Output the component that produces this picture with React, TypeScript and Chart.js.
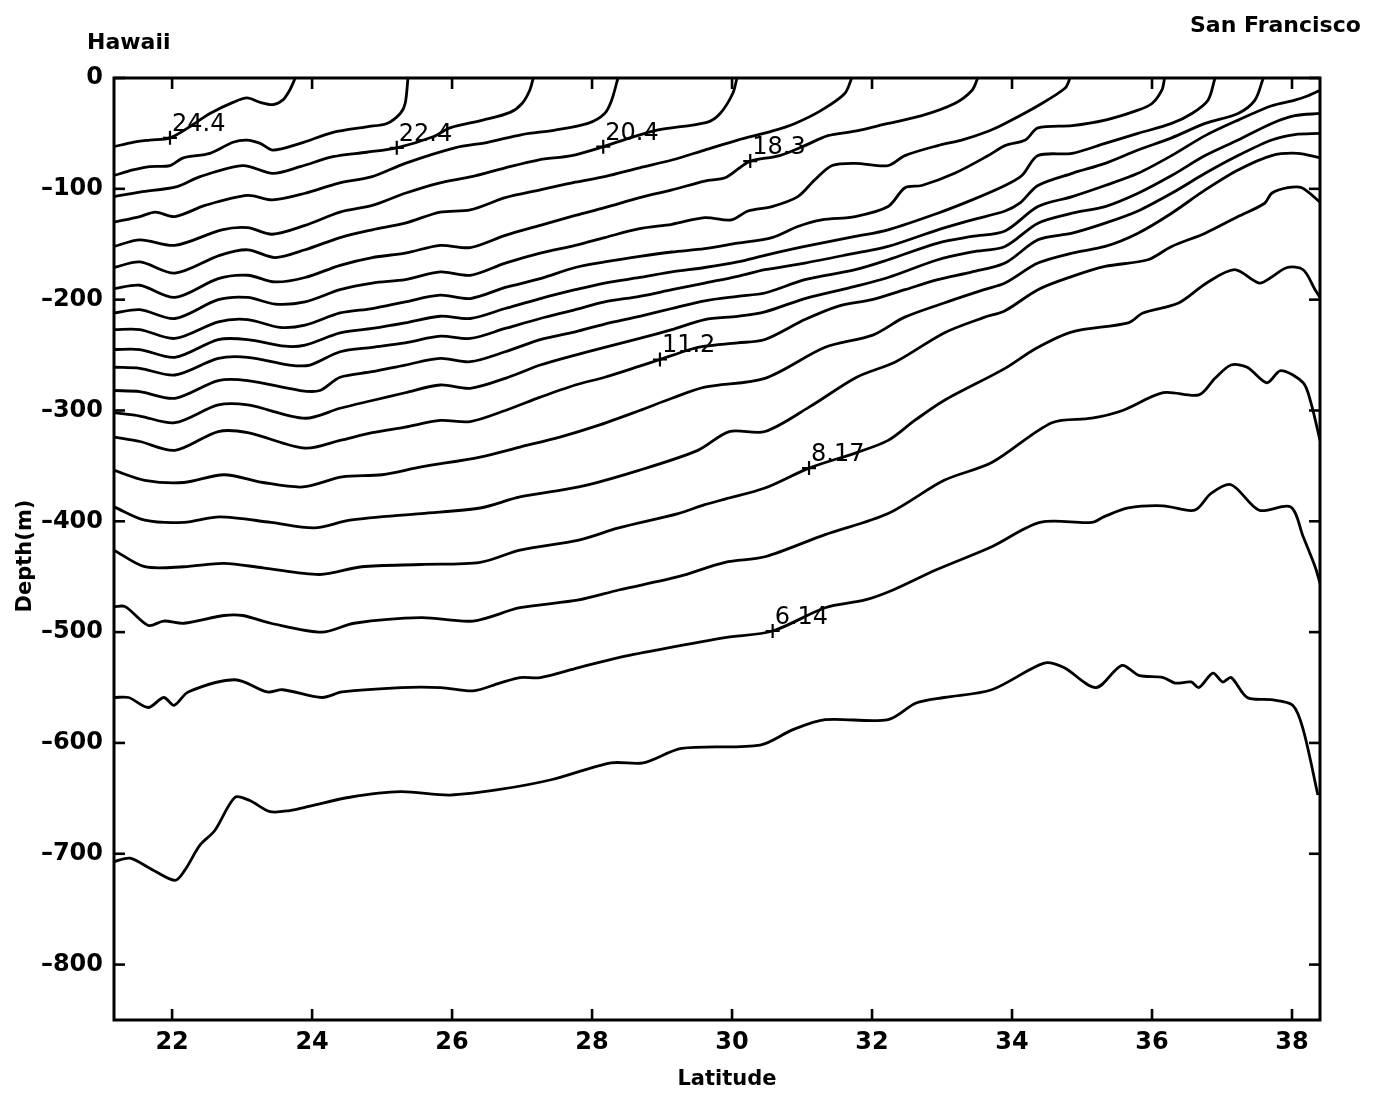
import React, { useEffect, useRef } from 'react';
import { Chart, registerables } from 'chart.js';

Chart.register(...registerables);

// ---- axis ticks ----
const xTicks = [22, 24, 26, 28, 30, 32, 34, 36, 38];
const yTicks = [0, -100, -200, -300, -400, -500, -600, -700, -800];
const latMin = 21.17;
const latMax = 38.4;
const depthMin = -850;
const depthMax = 0;

// ---- contour levels (deg C), top to bottom ----
const levels = ['24.4', '23.4', '22.4', '21.4', '20.4', '19.3', '18.3', '17.3', '16.3', '15.3', '14.2', '13.2', '12.2', '11.2', '10.2', '9.2', '8.17', '7.15', '6.14', '5.12'];

const c01Lat = [21.17, 21.44, 21.68, 21.97, 22.30, 22.54, 22.87, 23.07, 23.26, 23.44, 23.58, 23.68, 23.76];
const c01Dep = [-62, -58, -56, -54, -42, -32, -22, -18, -22, -24, -20, -11, 0];

const c02Lat = [21.17, 21.44, 21.68, 21.97, 22.16, 22.54, 22.87, 23.07, 23.26, 23.44, 23.83, 24.30, 24.78, 25.07, 25.26, 25.33, 25.37];
const c02Dep = [-88, -83, -80, -79, -72, -68, -58, -56, -59, -65, -59, -49, -44, -41, -32, -23, 0];

const c03Lat = [21.17, 21.54, 22.07, 22.40, 23.01, 23.44, 23.83, 24.30, 24.78, 25.21, 25.73, 25.97, 26.44, 26.83, 27.00, 27.11, 27.16];
const c03Dep = [-107, -103, -98, -89, -79, -86, -80, -71, -67, -63, -53, -45, -38, -31, -23, -11, 0];

const c04Lat = [21.17, 21.54, 21.76, 22.04, 22.47, 23.08, 23.43, 23.90, 24.37, 24.86, 25.33, 26.04, 26.51, 27.00, 27.47, 27.94, 28.18, 28.28, 28.37];
const c04Dep = [-130, -125, -121, -125, -115, -106, -110, -104, -95, -89, -77, -63, -58, -51, -47, -41, -32, -20, 0];

const c05Lat = [21.17, 21.54, 22.04, 22.71, 23.08, 23.43, 23.90, 24.40, 24.86, 25.33, 25.80, 26.28, 26.76, 27.23, 27.71, 28.16, 28.54, 28.93, 29.64, 29.83, 30.01, 30.07];
const c05Dep = [-152, -146, -151, -137, -135, -141, -133, -121, -115, -104, -95, -89, -81, -74, -70, -62, -54, -47, -40, -32, -14, 0];

const c06Lat = [21.17, 21.54, 22.04, 22.68, 23.08, 23.47, 23.90, 24.40, 24.86, 25.33, 25.83, 26.26, 26.76, 27.26, 27.76, 28.18, 28.68, 29.14, 29.61, 30.08, 30.57, 30.90, 31.28, 31.61, 31.71];
const c06Dep = [-171, -166, -176, -160, -155, -162, -155, -144, -137, -131, -121, -119, -108, -101, -94, -89, -81, -74, -65, -56, -48, -41, -29, -14, 0];

const c07Lat = [21.17, 21.54, 22.04, 22.66, 23.08, 23.47, 23.90, 24.40, 24.86, 25.33, 25.83, 26.26, 26.76, 27.26, 27.76, 28.18, 28.68, 29.14, 29.61, 29.90, 30.11, 30.26, 30.68, 31.04, 31.37, 31.76, 32.23, 32.71, 33.18, 33.43, 33.51];
const c07Dep = [-190, -187, -198, -181, -178, -184, -180, -169, -162, -158, -151, -153, -142, -133, -124, -117, -108, -101, -93, -90, -81, -75, -70, -61, -52, -48, -41, -34, -23, -11, 0];

const c08Lat = [21.17, 21.54, 22.04, 22.66, 23.08, 23.47, 23.90, 24.40, 24.86, 25.33, 25.83, 26.26, 26.76, 27.26, 27.76, 28.18, 28.68, 29.14, 29.61, 29.99, 30.23, 30.57, 30.94, 31.18, 31.43, 31.76, 32.23, 32.47, 32.94, 33.28, 33.66, 33.90, 34.37, 34.76, 34.83];
const c08Dep = [-212, -209, -217, -200, -198, -204, -202, -191, -185, -182, -175, -178, -167, -158, -151, -144, -136, -132, -126, -128, -120, -116, -107, -92, -79, -77, -79, -70, -61, -56, -48, -41, -25, -9, 0];

const c09Lat = [21.17, 21.54, 22.04, 22.66, 23.08, 23.54, 23.90, 24.40, 24.86, 25.33, 25.83, 26.26, 26.76, 27.26, 27.76, 28.18, 28.68, 29.14, 29.61, 30.08, 30.57, 30.94, 31.28, 31.76, 32.23, 32.47, 32.71, 33.18, 33.66, 33.90, 34.19, 34.37, 34.86, 35.33, 35.80, 36.00, 36.14, 36.18];
const c09Dep = [-227, -227, -235, -220, -218, -225, -223, -212, -208, -202, -196, -199, -189, -181, -171, -166, -161, -157, -154, -149, -144, -134, -128, -125, -116, -99, -97, -86, -70, -61, -56, -45, -43, -38, -29, -23, -11, 0];

const c10Lat = [21.17, 21.54, 22.04, 22.66, 23.08, 23.61, 23.90, 24.40, 24.86, 25.33, 25.83, 26.26, 26.76, 27.26, 27.76, 28.18, 28.68, 29.14, 29.61, 30.08, 30.47, 31.04, 31.76, 32.23, 32.94, 33.43, 33.90, 34.14, 34.37, 34.86, 35.33, 35.80, 36.28, 36.57, 36.80, 36.90];
const c10Dep = [-245, -245, -252, -236, -236, -242, -241, -230, -226, -221, -215, -217, -208, -199, -191, -185, -180, -175, -171, -166, -160, -152, -143, -137, -122, -110, -97, -88, -70, -68, -59, -50, -41, -32, -20, 0];

const c11Lat = [21.17, 21.54, 22.04, 22.66, 23.08, 23.68, 23.97, 24.40, 24.86, 25.33, 25.83, 26.26, 26.76, 27.26, 27.76, 28.18, 28.68, 29.14, 29.61, 30.08, 30.47, 31.04, 31.76, 32.23, 32.94, 33.43, 33.90, 34.11, 34.37, 34.86, 35.33, 35.80, 36.28, 36.76, 37.23, 37.47, 37.59];
const c11Dep = [-261, -262, -268, -253, -252, -259, -259, -247, -243, -239, -233, -235, -226, -217, -209, -202, -197, -191, -185, -179, -173, -167, -158, -152, -137, -128, -120, -113, -97, -86, -77, -65, -54, -41, -32, -20, 0];

const c12Lat = [21.17, 21.54, 22.04, 22.66, 23.08, 23.83, 24.11, 24.40, 24.86, 25.33, 25.83, 26.26, 26.76, 27.26, 27.76, 28.18, 28.68, 29.14, 29.61, 30.08, 30.47, 31.04, 31.76, 32.23, 32.94, 33.43, 33.90, 34.37, 34.86, 35.33, 35.80, 36.28, 36.76, 37.23, 37.71, 38.04, 38.23, 38.40];
const c12Dep = [-282, -283, -289, -273, -273, -282, -282, -270, -265, -259, -253, -256, -247, -236, -229, -222, -215, -208, -201, -197, -194, -182, -173, -164, -149, -143, -138, -116, -107, -97, -86, -70, -52, -38, -25, -20, -16, -11];

const c13Lat = [21.17, 21.54, 22.04, 22.66, 23.08, 23.90, 24.40, 24.86, 25.33, 25.83, 26.26, 26.76, 27.26, 27.76, 28.18, 28.68, 29.14, 29.61, 30.08, 30.47, 31.04, 31.76, 32.23, 32.94, 33.43, 33.90, 34.37, 34.86, 35.33, 35.80, 36.28, 36.76, 37.23, 37.71, 38.04, 38.40];
const c13Dep = [-302, -305, -311, -295, -295, -307, -298, -291, -284, -277, -280, -271, -259, -250, -243, -235, -227, -218, -215, -211, -199, -188, -180, -164, -157, -152, -131, -122, -116, -104, -88, -70, -56, -41, -34, -32];

const c14Lat = [21.17, 21.54, 22.04, 22.66, 23.08, 23.90, 24.40, 24.86, 25.33, 25.83, 26.26, 26.76, 27.26, 27.76, 28.18, 28.68, 28.97, 29.40, 29.61, 30.08, 30.47, 31.04, 31.51, 32.00, 32.47, 32.94, 33.43, 33.90, 34.37, 34.86, 35.33, 35.80, 36.28, 36.76, 37.23, 37.71, 38.04, 38.40];
const c14Dep = [-324, -328, -336, -319, -320, -334, -327, -320, -315, -309, -310, -300, -288, -277, -270, -260, -254, -245, -242, -239, -236, -218, -206, -200, -191, -182, -175, -167, -146, -140, -131, -120, -104, -86, -70, -56, -51, -50];

const c15Lat = [21.17, 21.61, 22.17, 22.74, 23.30, 23.87, 24.43, 25.00, 25.56, 26.40, 26.97, 27.54, 28.11, 28.68, 29.14, 29.61, 30.47, 31.33, 32.01, 32.46, 33.03, 33.60, 33.90, 34.37, 34.86, 35.33, 35.80, 36.28, 36.76, 37.23, 37.71, 38.08, 38.40];
const c15Dep = [-354, -363, -365, -358, -365, -369, -360, -358, -351, -342, -333, -324, -313, -300, -289, -279, -271, -243, -232, -216, -203, -191, -185, -167, -158, -152, -140, -122, -101, -83, -70, -68, -72];

const c16Lat = [21.17, 21.61, 22.17, 22.68, 23.41, 24.03, 24.54, 25.56, 26.40, 26.97, 27.81, 28.67, 29.51, 29.96, 30.47, 31.10, 31.78, 32.34, 33.03, 33.60, 33.90, 34.37, 34.86, 35.33, 35.94, 36.28, 36.76, 37.23, 37.61, 37.71, 37.94, 38.14, 38.40];
const c16Dep = [-387, -399, -401, -396, -401, -406, -399, -393, -388, -378, -369, -354, -336, -319, -319, -297, -270, -256, -230, -216, -210, -191, -179, -170, -164, -152, -140, -125, -113, -104, -99, -99, -112];

const c17Lat = [21.17, 21.61, 22.17, 22.74, 23.30, 24.11, 24.71, 25.56, 26.40, 26.97, 27.81, 28.38, 29.23, 29.61, 29.90, 30.47, 31.10, 31.78, 32.23, 32.61, 33.03, 33.90, 34.34, 34.86, 35.66, 35.87, 36.38, 36.78, 37.18, 37.53, 37.70, 37.93, 38.16, 38.33, 38.40];
const c17Dep = [-426, -441, -441, -438, -442, -448, -441, -439, -437, -426, -417, -406, -393, -385, -380, -370, -352, -338, -327, -309, -291, -262, -244, -229, -221, -212, -203, -185, -173, -185, -180, -171, -173, -191, -198];

const c18Lat = [21.17, 21.33, 21.66, 21.88, 22.17, 22.74, 23.01, 23.41, 24.14, 24.60, 25.56, 26.30, 26.97, 27.81, 28.38, 29.23, 29.90, 30.47, 31.33, 32.23, 33.03, 33.71, 34.57, 35.14, 35.58, 36.16, 36.67, 36.90, 37.13, 37.36, 37.64, 37.84, 38.16, 38.27, 38.40];
const c18Dep = [-477, -477, -494, -490, -492, -485, -485, -492, -500, -492, -487, -490, -478, -471, -462, -450, -437, -432, -412, -393, -363, -347, -311, -307, -300, -284, -286, -271, -259, -261, -275, -264, -275, -293, -327];

const c19Lat = [21.17, 21.38, 21.66, 21.88, 22.03, 22.23, 22.90, 23.36, 23.58, 24.14, 24.43, 25.27, 25.84, 26.30, 26.68, 26.97, 27.26, 27.81, 28.38, 28.94, 29.90, 30.58, 31.33, 31.90, 32.30, 32.91, 33.71, 34.40, 35.14, 35.31, 35.66, 36.16, 36.61, 36.84, 37.13, 37.53, 37.98, 38.16, 38.33, 38.40];
const c19Dep = [-559, -559, -568, -559, -566, -554, -543, -554, -552, -559, -554, -550, -550, -553, -546, -541, -541, -532, -523, -516, -505, -499, -478, -471, -462, -444, -423, -401, -401, -396, -388, -386, -390, -375, -367, -390, -387, -414, -441, -456];

const c20Lat = [21.17, 21.40, 21.68, 22.04, 22.18, 22.40, 22.61, 22.90, 23.11, 23.40, 23.68, 23.97, 24.54, 25.26, 25.97, 26.68, 27.43, 28.27, 28.73, 29.28, 30.40, 30.87, 31.33, 32.23, 32.63, 33.03, 33.71, 34.46, 34.74, 35.20, 35.57, 35.81, 36.16, 36.33, 36.56, 36.67, 36.87, 37.01, 37.13, 37.36, 37.70, 38.01, 38.16, 38.37];
const c20Dep = [-707, -704, -713, -724, -715, -692, -679, -649, -652, -662, -661, -657, -649, -644, -647, -642, -633, -618, -618, -605, -602, -588, -579, -579, -564, -559, -552, -528, -532, -550, -530, -539, -541, -546, -545, -550, -537, -545, -541, -559, -561, -566, -588, -647];

// ---- labelled points on contours ----
const labelLat = [21.97, 25.21, 28.16, 30.26, 28.97, 31.10, 30.58];
const labelDepth = [-54, -63, -62, -75, -254, -352, -499];
const labelText = ['24.4', '22.4', '20.4', '18.3', '11.2', '8.17', '6.14'];

const contourLats = [c01Lat, c02Lat, c03Lat, c04Lat, c05Lat, c06Lat, c07Lat, c08Lat, c09Lat, c10Lat, c11Lat, c12Lat, c13Lat, c14Lat, c15Lat, c16Lat, c17Lat, c18Lat, c19Lat, c20Lat];
const contourDeps = [c01Dep, c02Dep, c03Dep, c04Dep, c05Dep, c06Dep, c07Dep, c08Dep, c09Dep, c10Dep, c11Dep, c12Dep, c13Dep, c14Dep, c15Dep, c16Dep, c17Dep, c18Dep, c19Dep, c20Dep];

const FONT = '"DejaVu Sans", "Liberation Sans", sans-serif';

const framePlugin = {
  id: 'frameAndText',
  afterDraw(chart: any) {
    const ctx = chart.ctx as CanvasRenderingContext2D;
    const { left, right, top, bottom } = chart.chartArea;
    const xs = chart.scales.x;
    const ys = chart.scales.y;
    ctx.save();
    ctx.strokeStyle = '#000';
    ctx.lineWidth = 3;
    ctx.strokeRect(left, top, right - left, bottom - top);
    ctx.lineWidth = 2.6;
    const tl = 11;
    const seg = (x1: number, y1: number, x2: number, y2: number) => {
      ctx.beginPath();
      ctx.moveTo(x1, y1);
      ctx.lineTo(x2, y2);
      ctx.stroke();
    };
    xTicks.forEach((v) => {
      const px = xs.getPixelForValue(v);
      seg(px, bottom, px, bottom - tl);
      seg(px, top, px, top + tl);
    });
    yTicks.forEach((v) => {
      const py = ys.getPixelForValue(v);
      seg(left, py, left + tl, py);
      seg(right, py, right - tl, py);
    });

    ctx.fillStyle = '#000';
    ctx.textAlign = 'left';
    ctx.textBaseline = 'alphabetic';
    ctx.font = '24px ' + FONT;
    labelText.forEach((t, i) => {
      const px = xs.getPixelForValue(labelLat[i]);
      const py = ys.getPixelForValue(labelDepth[i]);
      ctx.fillText(t, px + 2, py - 7);
    });

    ctx.font = 'bold 22px ' + FONT;
    ctx.fillText('Hawaii', 87, 49);
    ctx.fillText('San Francisco', 1190, 32);
    ctx.font = 'bold 21px ' + FONT;
    ctx.textAlign = 'center';
    ctx.fillText('Latitude', 727, 1085);
    ctx.save();
    ctx.translate(31, 556);
    ctx.rotate(-Math.PI / 2);
    ctx.fillText('Depth(m)', 0, 0);
    ctx.restore();
    ctx.restore();
  },
};

export default function App() {
  const ref = useRef<HTMLCanvasElement | null>(null);

  useEffect(() => {
    if (!ref.current) return;
    const datasets: any[] = contourLats.map((lats, i) => ({
      label: levels[i],
      data: lats.map((x, j) => ({ x, y: contourDeps[i][j] })),
      showLine: true,
      borderColor: '#000',
      borderWidth: 2.8,
      pointRadius: 0,
      pointHoverRadius: 0,
      tension: 0.3,
      fill: false,
    }));
    datasets.push({
      label: 'labels',
      data: labelLat.map((x, i) => ({ x, y: labelDepth[i] })),
      showLine: false,
      pointStyle: 'cross',
      pointRadius: 7,
      borderWidth: 2.2,
      borderColor: '#000',
      backgroundColor: '#000',
    });

    const chart = new Chart(ref.current, {
      type: 'scatter',
      data: { datasets },
      options: {
        animation: false,
        responsive: false,
        events: [],
        layout: { padding: { left: 0, top: 78, right: 62, bottom: 0 } },
        plugins: { legend: { display: false }, tooltip: { enabled: false }, title: { display: false } },
        scales: {
          x: {
            type: 'linear',
            min: latMin,
            max: latMax,
            grid: { display: false, drawTicks: false },
            border: { display: false },
            afterBuildTicks: (s: any) => {
              s.ticks = xTicks.map((v) => ({ value: v }));
            },
            afterFit: (s: any) => {
              s.height = 73;
            },
            ticks: {
              autoSkip: false,
              maxRotation: 0,
              padding: 8,
              color: '#000',
              font: { family: FONT, size: 24, weight: 'bold' },
            },
          },
          y: {
            type: 'linear',
            min: depthMin,
            max: depthMax,
            grid: { display: false, drawTicks: false },
            border: { display: false },
            afterBuildTicks: (s: any) => {
              s.ticks = yTicks.map((v) => ({ value: v }));
            },
            afterFit: (s: any) => {
              s.width = 114;
            },
            ticks: {
              autoSkip: false,
              padding: 11,
              color: '#000',
              font: { family: FONT, size: 24, weight: 'bold' },
              callback: (v: any) => (Number(v) < 0 ? '\u2013' + Math.abs(Number(v)) : String(v)),
            },
          },
        },
      },
      plugins: [framePlugin],
    });
    return () => chart.destroy();
  }, []);

  return (
    <div style={{ position: 'absolute', left: 0, top: 0, width: 1382, height: 1093, background: '#fff' }}>
      <canvas ref={ref} width={1382} height={1093} style={{ display: 'block' }} />
    </div>
  );
}
